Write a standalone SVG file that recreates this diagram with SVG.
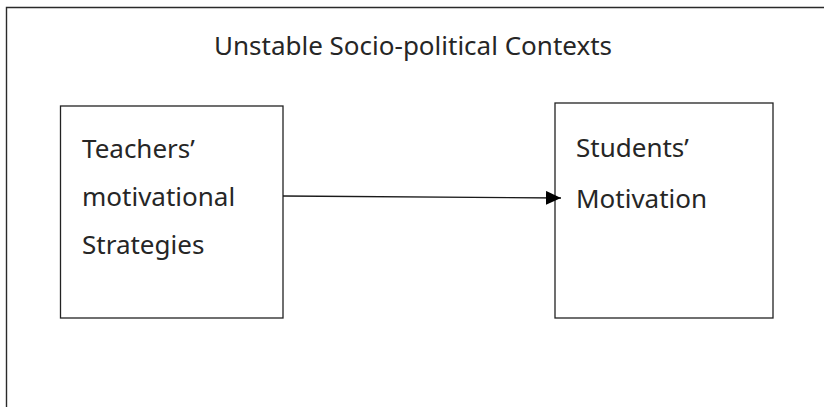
<svg xmlns="http://www.w3.org/2000/svg" width="824" height="407" viewBox="0 0 824 407">
  <style>
    .frame { fill: none; stroke: #2a2a2a; stroke-width: 1.4; }
    .box { fill: #ffffff; stroke: #222222; stroke-width: 1.3; }
    .label { font-family: "Noto Sans", "Open Sans", sans-serif; font-size: 26px; fill: #262626; }
    .link { fill: none; stroke: #1a1a1a; stroke-width: 1.3; }
  </style>
  <defs>
    <marker id="arrowhead" markerWidth="16" markerHeight="14" refX="15" refY="7" orient="auto" markerUnits="userSpaceOnUse">
      <path d="M0,0 L15,7 L0,14 Z" fill="#000000"/>
    </marker>
  </defs>
  <rect width="824" height="407" fill="#ffffff"/>

  <!-- outer context frame (open on the right and bottom) -->
  <g id="context">
    <path class="frame" d="M6.5,407 V7.5 H824"/>
    <text class="label" x="413" y="55" text-anchor="middle">Unstable Socio-political Contexts</text>
  </g>

  <g id="teachers">
    <rect class="box" x="60.5" y="106" width="222.5" height="212"/>
    <text class="label" x="82" y="158">Teachers’</text>
    <text class="label" x="82" y="206">motivational</text>
    <text class="label" x="82" y="254">Strategies</text>
  </g>

  <g id="students">
    <rect class="box" x="555" y="103" width="218" height="215"/>
    <text class="label" x="576" y="157">Students’</text>
    <text class="label" x="576" y="208">Motivation</text>
  </g>

  <g id="connectors">
    <path class="link" d="M283,196 L561,198" marker-end="url(#arrowhead)"/>
  </g>
</svg>
